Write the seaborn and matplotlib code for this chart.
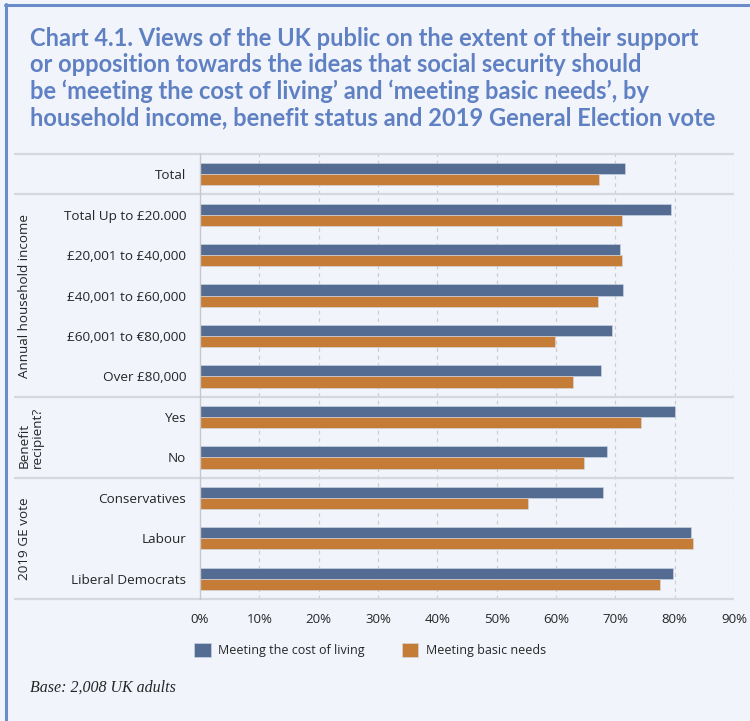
import matplotlib
matplotlib.use("Agg")
import matplotlib.pyplot as plt
import matplotlib.transforms as mtransforms
from matplotlib.lines import Line2D
import pandas as pd
import seaborn as sns

# ---- data -------------------------------------------------------------
categories = [
    "Total",
    "Total Up to £20.000",
    "£20,001 to £40,000",
    "£40,001 to £60,000",
    "£60,001 to €80,000",
    "Over £80,000",
    "Yes",
    "No",
    "Conservatives",
    "Labour",
    "Liberal Democrats",
]
cost_of_living = [71.7, 79.4, 70.8, 71.3, 69.4, 67.6, 80.0, 68.6, 67.9, 82.7, 79.7]
basic_needs = [67.3, 71.2, 71.1, 67.0, 59.8, 62.9, 74.3, 64.7, 55.3, 83.1, 77.5]
series_names = ["Meeting the cost of living", "Meeting basic needs"]
x_ticks = [0, 10, 20, 30, 40, 50, 60, 70, 80, 90]
x_tick_labels = [f"{t}%" for t in x_ticks]

# group headings: (label, first row, last row)
groups = [
    ("Annual household income", 1, 5),
    ("Benefit\nrecipient?", 6, 7),
    ("2019 GE vote", 8, 10),
]
separators_after = [0, 5, 7]

df = pd.DataFrame({
    "category": categories * 2,
    "value": cost_of_living + basic_needs,
    "series": [series_names[0]] * len(categories) + [series_names[1]] * len(categories),
})

# ---- style ------------------------------------------------------------
BG = "#F1F4FB"
BLUE = "#546C92"
ORANGE = "#C57C37"
TITLE = "#5F80C2"
FRAME = "#6B8CCB"
RULE = "#D6D8DE"
TEXT = "#262626"

sns.set_theme(style="white")
plt.rcParams["font.family"] = ["Open Sans", "DejaVu Sans"]

W, H = 750, 721
fig = plt.figure(figsize=(W / 100, H / 100), dpi=100, facecolor=BG)

def fx(px):
    return px / W

def fy(py):
    return 1 - py / H

ax_left, ax_right, ax_top, ax_bot = 200, 734, 154, 599
ax = fig.add_axes([fx(ax_left), fy(ax_bot), fx(ax_right - ax_left), (ax_bot - ax_top) / H])
ax.set_facecolor(BG)

sns.barplot(
    data=df, y="category", x="value", hue="series", orient="h",
    palette=[BLUE, ORANGE], saturation=1, width=0.55, gap=0,
    edgecolor="#D3DBEA", linewidth=0.4, ax=ax, legend=True,
)

handles, labels = ax.get_legend_handles_labels()
ax.get_legend().remove()

ax.set_xlim(0, 90)
ax.set_ylim(len(categories) - 0.5, -0.5)
ax.set_xticks(x_ticks)
ax.set_xticklabels(x_tick_labels)
ax.set_xlabel("")
ax.set_ylabel("")
ax.tick_params(axis="x", length=0, pad=10, labelsize=9.5, labelcolor=TEXT)
ax.tick_params(axis="y", length=0, pad=10, labelsize=9.7, labelcolor=TEXT)

# dashed vertical gridlines
for t in x_ticks[1:]:
    ax.axvline(t, color="#CDCDCD", lw=0.9, ls=(0, (3, 3)), zorder=0)

for side in ["top", "right", "bottom"]:
    ax.spines[side].set_visible(False)
ax.spines["left"].set_color("#C8C8C8")
ax.spines["left"].set_linewidth(1.0)

# horizontal rules spanning the label column and plot
blend = mtransforms.blended_transform_factory(ax.transAxes, ax.transData)
fig_data = mtransforms.blended_transform_factory(fig.transFigure, ax.transData)
x0 = (14 - ax_left) / (ax_right - ax_left)
rule_rows = [-0.5] + [r + 0.5 for r in separators_after] + [len(categories) - 0.5]
for yv in rule_rows:
    ax.plot([x0, 1.0], [yv, yv], transform=blend, color=RULE, lw=1.6,
            clip_on=False, zorder=1, solid_capstyle="butt")

# rotated group headings
for text, r0, r1 in groups:
    ax.text(fx(18), (r0 + r1) / 2, text, transform=fig_data,
            rotation=90, ha="left", va="center", fontsize=9.7, color=TEXT,
            linespacing=1.0, clip_on=False)

# title
title_lines = [
    "Chart 4.1. Views of the UK public on the extent of their support",
    "or opposition towards the ideas that social security should",
    "be \u2018meeting the cost of living\u2019 and \u2018meeting basic needs\u2019, by",
    "household income, benefit status and 2019 General Election vote",
]
for i, line in enumerate(title_lines):
    fig.text(fx(30), fy(38 + 26.7 * i), line, ha="left", va="center",
             fontsize=17, fontweight="bold", color=TITLE, family=["Lato", "DejaVu Sans"])

# legend
fig.legend(
    handles, labels, loc="center left", bbox_to_anchor=(fx(183), fy(650)),
    ncol=2, frameon=False, fontsize=9, handlelength=1.3, handleheight=1.3,
    handletextpad=0.6, columnspacing=3.0, labelcolor=TEXT,
)

# base note
fig.text(fx(30), fy(688), "Base: 2,008 UK adults", ha="left", va="center",
         fontsize=11.5, style="italic", color=TEXT,
         family=["Liberation Serif", "DejaVu Serif"])

# frame lines along the top and left edges
fig.add_artist(Line2D([fx(5), 1.0], [fy(4.5), fy(4.5)], color=FRAME, lw=2.2))
fig.add_artist(Line2D([fx(5.5), fx(5.5)], [0, fy(4)], color=FRAME, lw=2.2))

fig.savefig("out.png", dpi=100, facecolor=BG)
